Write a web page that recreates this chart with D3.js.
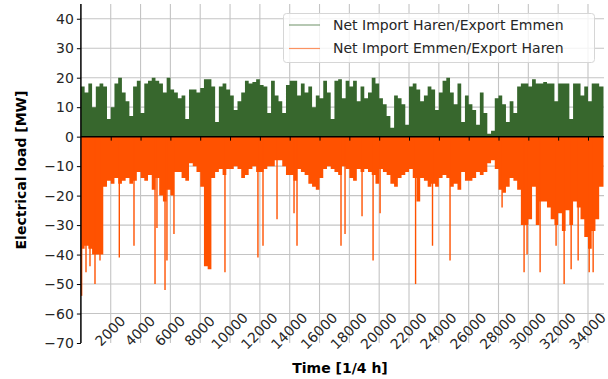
<!DOCTYPE html>
<html>
<head>
<meta charset="utf-8">
<script src="https://cdn.jsdelivr.net/npm/d3@7"></script>
<style>
  body { margin: 0; background: #fff; }
  svg { display: block; font-family: "DejaVu Sans", sans-serif; }
</style>
</head>
<body>
<div id="chart"></div>
<script>
// quarter-hour steps per sample bin
var binSize = 250;

// Net import Haren / export Emmen (MW), one value per bin
var importHaren = [
  17, 15, 18, 10, 17, 18, 17, 6, 10, 18,
  20, 15, 12, 7, 17, 19, 8, 18, 19, 20,
  19, 18, 15, 20, 16, 15, 13, 14, 6, 16,
  16, 15, 16.5, 19.5, 19.5, 17, 5, 17, 18, 16,
  14, 9, 12, 15, 19, 18, 18.5, 19.5, 17.5, 17,
  8, 19, 14, 12, 8, 17.5, 19, 19, 14, 18,
  15, 17, 10, 14, 13, 19, 15, 6, 19, 19.5,
  13, 19, 17, 19, 12, 17, 13, 15, 20, 18,
  13, 11, 7, 3, 14, 13, 11, 4, 17, 18,
  16, 12, 14, 17, 16, 9, 15, 19, 20, 15,
  11, 18, 5, 14, 11, 9, 4, 15, 8, 1,
  2, 13, 14, 11, 5, 12, 8, 17, 18, 18,
  17, 19.5, 18, 18, 18.5, 18, 18, 12, 18, 18,
  18, 6, 18, 18, 14, 17, 12, 18, 18, 17
];

// Net import Emmen / export Haren (MW), one value per bin
var importEmmen = [
  -38, -37, -38, -40, -40, -40, -17, -15, -16, -14,
  -16, -15, -14, -16, -15, -12, -14, -15, -13, -18,
  -14, -20, -22, -18, -20, -12, -12, -14, -15, -9,
  -10, -12, -17, -44, -45, -14, -12, -11, -13, -11,
  -11, -10, -11, -14, -13, -11, -10, -12, -12, -11,
  -10, -10, -8, -8, -10, -13, -13, -15, -11, -12,
  -13, -16, -17, -18, -14, -11, -10, -11, -12, -13,
  -10, -11, -14, -15, -11, -12, -11, -12, -13, -16,
  -11, -12, -13, -16, -17, -14, -13, -12, -11, -14,
  -22, -14, -15, -17, -16, -17, -14, -13, -14, -17,
  -16, -18, -12, -15, -15, -14, -12, -13, -12, -9,
  -8, -11, -18, -19, -17, -14, -15, -18, -30, -30,
  -28, -17, -30, -22, -22, -24, -28, -30, -26, -32,
  -25, -30, -22, -24, -28, -34, -38, -32, -28, -17
];

// short export peaks towards Haren
var peakTimes = [50, 342, 610, 945, 1280, 2575, 3560, 4970, 5100, 5640, 5770, 6240,
  9660, 11870, 12210, 13150, 14290, 14490, 17440, 17710, 18850, 19590, 20060,
  22440, 23575, 24750, 28240, 29715, 29915, 30790, 31860, 32400, 32870, 33340, 34080, 34345];
var peakValues = [-54, -46, -44, -50, -42, -41, -37, -50, -31, -52, -42, -33,
  -46, -41, -37, -28, -26, -37, -37, -33, -27, -42, -26,
  -50, -37, -42, -24, -46, -40, -46, -37, -50, -45, -42, -46, -46];

var xTicks = d3.range(2000, 34001, 2000);
var yTicks = d3.range(-70, 41, 10);

var legendLabels = ["Net Import Haren/Export Emmen", "Net Import Emmen/Export Haren"];
var green = "#37672d", orange = "#ff5200";

var width = 608, height = 379;

var svg = d3.select("#chart")
  .append("svg")
  .attr("width", width)
  .attr("height", height);

var x = d3.scaleLinear().domain([0, 35040]).range([80.9, 603.5]);
var y = d3.scaleLinear().domain([-70, 45]).range([343, 4]);

// grid
svg.append("g")
  .selectAll("line")
  .data(yTicks.filter(function (d) { return d > -70; }))
  .enter().append("line")
  .attr("x1", x.range()[0]).attr("x2", 604)
  .attr("y1", function (d) { return y(d); })
  .attr("y2", function (d) { return y(d); })
  .style("stroke", "#c4c4c4").style("stroke-width", 1.1);

svg.append("g")
  .selectAll("line")
  .data(xTicks)
  .enter().append("line")
  .attr("x1", function (d) { return x(d); })
  .attr("x2", function (d) { return x(d); })
  .attr("y1", 4).attr("y2", 343)
  .style("stroke", "#c4c4c4").style("stroke-width", 1.1);

// series as stepped areas
function toPoints(vals) {
  var pts = vals.map(function (v, i) { return [i * binSize, v]; });
  pts.push([vals.length * binSize + 40, vals[vals.length - 1]]);
  return pts;
}

var area = d3.area()
  .x(function (d) { return x(d[0]); })
  .y0(y(0))
  .y1(function (d) { return y(d[1]); })
  .curve(d3.curveStepAfter);

svg.append("path")
  .datum(toPoints(importHaren))
  .attr("d", area)
  .style("fill", green);

svg.append("path")
  .datum(toPoints(importEmmen))
  .attr("d", area)
  .style("fill", orange);

svg.append("g")
  .selectAll("line")
  .data(peakTimes)
  .enter().append("line")
  .attr("x1", function (d) { return x(d); })
  .attr("x2", function (d) { return x(d); })
  .attr("y1", y(0))
  .attr("y2", function (d, i) { return y(peakValues[i]); })
  .style("stroke", orange).style("stroke-width", 1.4);

// x axis spine on zero line
svg.append("g")
  .attr("transform", "translate(0," + y(0) + ")")
  .call(d3.axisBottom(x).tickValues(xTicks).tickSize(4).tickSizeOuter(0).tickFormat(""))
  .call(function (g) {
    g.select(".domain").attr("d", "M" + x.range()[0] + ",0H604").style("stroke", "#000").style("stroke-width", 1.5);
    g.selectAll(".tick line").style("stroke", "#000");
  });

// x tick labels, rotated, near the bottom
svg.append("g")
  .attr("transform", "translate(-1,331)")
  .call(d3.axisBottom(x).tickValues(xTicks).tickSize(0).tickPadding(0).tickFormat(d3.format("d")))
  .call(function (g) {
    g.select(".domain").remove();
    g.selectAll("text")
      .attr("y", 0).attr("dy", "0.35em")
      .attr("transform", "rotate(-45)")
      .style("text-anchor", "middle")
      .style("font-size", "14px")
      .style("fill", "#262626")
      .style("font-family", "DejaVu Sans");
  });

// y axis
svg.append("g")
  .attr("transform", "translate(" + x.range()[0] + ",0)")
  .call(d3.axisLeft(y).tickValues(yTicks).tickSize(4).tickSizeOuter(0).tickPadding(3))
  .call(function (g) {
    g.select(".domain").attr("d", "M0,4V343").style("stroke", "#000").style("stroke-width", 1.5);
    g.selectAll(".tick line").style("stroke", "#000");
    g.selectAll("text").style("font-size", "14px").style("fill", "#262626").style("font-family", "DejaVu Sans");
  });

// axis titles
svg.append("text")
  .attr("transform", "translate(26,170) rotate(-90)")
  .style("text-anchor", "middle")
  .style("font-size", "14px")
  .style("font-weight", "bold")
  .text("Electrical load [MW]");

svg.append("text")
  .attr("x", 340).attr("y", 373)
  .style("text-anchor", "middle")
  .style("font-size", "14px")
  .style("font-weight", "bold")
  .text("Time [1/4 h]");

// legend
var legend = svg.append("g");
legend.append("rect")
  .attr("x", 283.5).attr("y", 13.5).attr("width", 311).attr("height", 49)
  .attr("rx", 3)
  .style("fill", "#fff").style("fill-opacity", 0.8)
  .style("stroke", "#d6d6d6");

var entries = legend.selectAll(".entry")
  .data(legendLabels)
  .enter().append("g")
  .attr("transform", function (d, i) { return "translate(0," + (25 + i * 23.5) + ")"; });

entries.append("line")
  .attr("x1", 289).attr("x2", 320)
  .style("stroke", function (d, i) { return i === 0 ? green : orange; })
  .style("stroke-opacity", 0.6)
  .style("stroke-width", 1.2);

entries.append("text")
  .attr("x", 333).attr("dy", "0.35em")
  .style("font-size", "14px")
  .style("fill", "#262626")
  .text(function (d) { return d; });
</script>
</body>
</html>
